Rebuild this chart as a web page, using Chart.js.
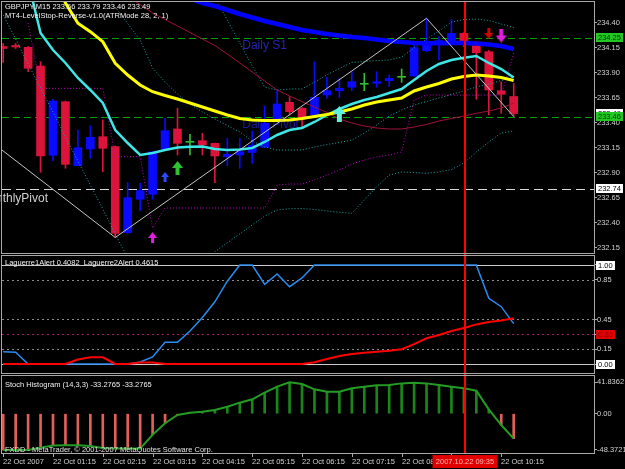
<!DOCTYPE html>
<html>
<head>
<meta charset="utf-8">
<title>GBPJPY,M15</title>
<script src="https://cdn.jsdelivr.net/npm/chart.js@4.4.1/dist/chart.umd.min.js"></script>
<style>
  html, body { margin: 0; padding: 0; background: #000; }
  #wrap { position: relative; width: 625px; height: 469px; background: #000; overflow: hidden; }
  #wrap canvas { position: absolute; left: 0; }
</style>
</head>
<body>
<div id="wrap">
  <canvas id="priceChart" width="625" height="255" style="top:0px"></canvas>
  <canvas id="laguerreChart" width="625" height="120" style="top:254px"></canvas>
  <canvas id="stochChart" width="625" height="95" style="top:374px"></canvas>
</div>
<script>
// ---------- data ----------
const xTickBars = [0, 4, 8, 12, 16, 20, 24, 28, 32, 36, 40];
const xTickLabels = ['22 Oct 2007', '22 Oct 01:15', '22 Oct 02:15', '22 Oct 03:15', '22 Oct 04:15',
    '22 Oct 05:15', '22 Oct 06:15', '22 Oct 07:15', '22 Oct 08:15', '22 Oct 09:15', '22 Oct 10:15'];
const cursorBar = 37.05;
const cursorLabel = '2007.10.22 09:35';

const opens = [234.16, 234.17, 234.152, 233.965, 233.072, 233.608, 232.968, 233.135, 233.258, 233.158,
    232.298, 232.632, 232.682, 233.135, 233.335, 233.202, 233.218, 233.192, 233.058, 233.075,
    233.10, 233.152, 233.435, 233.602, 233.542, 233.475, 233.675, 233.718, 233.752, 233.782,
    233.792, 233.818, 233.852, 233.865, 234.118, 234.20, 234.218, 234.292, 234.168, 234.108,
    233.718, 233.66];
const highs = [234.19, 234.19, 234.16, 234.008, 233.632, 233.615, 233.325, 233.368, 233.425, 233.165,
    232.798, 232.792, 233.11, 233.442, 233.542, 233.282, 233.292, 233.195, 233.242, 233.24,
    233.315, 233.565, 233.718, 233.658, 233.55, 234.008, 233.852, 233.842, 233.908, 233.892,
    233.908, 233.875, 233.935, 234.19, 234.442, 234.258, 234.432, 234.30, 234.208, 234.12,
    233.808, 233.79];
const lows = [234.00, 234.14, 233.908, 232.902, 233.018, 232.942, 232.965, 233.042, 232.908, 232.25,
    232.29, 232.518, 232.632, 233.13, 233.075, 233.075, 233.075, 232.798, 232.968, 232.942,
    232.992, 233.15, 233.43, 233.475, 233.358, 233.47, 233.642, 233.648, 233.718, 233.718,
    233.752, 233.758, 233.802, 233.86, 234.108, 234.025, 234.20, 234.158, 233.632, 233.475,
    233.492, 233.46];
const closes = [234.14, 234.155, 233.942, 233.065, 233.615, 232.982, 233.148, 233.252, 233.142, 232.292,
    232.648, 232.718, 233.105, 233.318, 233.192, 233.202, 233.175, 233.065, 233.082, 233.108,
    233.17, 233.392, 233.585, 233.508, 233.452, 233.652, 233.718, 233.742, 233.808, 233.782,
    233.808, 233.842, 233.852, 234.148, 234.192, 234.22, 234.292, 234.208, 234.098, 233.725,
    233.682, 233.49];

// moving averages
const maSlow = [null, null, null, null, null, null, null, null, null, null, null, null,
    234.76, 234.72, 234.68, 234.64, 234.595, 234.565, 234.525, 234.485, 234.45, 234.415,
    234.385, 234.355, 234.325, 234.305, 234.285, 234.27, 234.255, 234.245, 234.23, 234.215,
    234.205, 234.195, 234.192, 234.192, 234.195, 234.195, 234.19, 234.18, 234.165, 234.135];
const maMid = [null, null, null, null, 234.875, 234.595, 234.392, 234.308, 234.208, 233.992,
    233.875, 233.775, 233.708, 233.67, 233.635, 233.595, 233.555, 233.515, 233.475, 233.44,
    233.425, 233.42, 233.42, 233.425, 233.44, 233.46, 233.48, 233.505, 233.535, 233.575,
    233.605, 233.625, 233.645, 233.715, 233.755, 233.79, 233.835, 233.86, 233.875, 233.865,
    233.85, 233.82];
const maFast = [null, 235.3, 234.81, 234.295, 234.125, 233.995, 233.845, 233.725, 233.595, 233.325,
    233.195, 233.075, 233.095, 233.125, 233.15, 233.158, 233.16, 233.135, 233.125, 233.13,
    233.145, 233.205, 233.275, 233.325, 233.345, 233.405, 233.475, 233.535, 233.585, 233.625,
    233.655, 233.695, 233.735, 233.825, 233.915, 233.985, 234.025, 234.048, 234.065, 233.995,
    233.935, 233.85];
const trendLine = [null, null, null, null, null, null, null, null, null, null,
    234.665, 234.579, 234.495, 234.43, 234.365, 234.30, 234.235, 234.17, 234.085, 233.995,
    233.905, 233.815, 233.725, 233.665, 233.608, 233.555, 233.50, 233.435, 233.395, 233.365,
    233.345, 233.335, 233.335, 233.355, 233.38, 233.415, 233.44, 233.465, 233.492, 233.515,
    233.545, 233.595];

// envelope bands
const bandUpper = [null, null, null, null, null, null, null, null, null, null, null, null, null, null, null, null,
    234.80, 234.655, 234.425, 234.195, 233.965, 233.755, 233.725, 233.735, 233.735, 233.805,
    233.875, 233.94, 234.0, 234.01, 234.02, 234.025, 234.055, 234.145, 234.235, 234.315,
    234.405, 234.43, 234.435, 234.42, 234.385, 234.35];
const bandMiddle = [null, null, null, null, null, null, null, null,
    234.725, 234.555, 234.389, 234.225, 233.945, 233.805, 233.685, 233.585, 233.505, 233.435,
    233.37, 233.305, 233.215, 233.155, 233.125, 233.125, 233.125, 233.155, 233.18, 233.20,
    233.225, 233.295, 233.375, 233.465, 233.525, 233.575, 233.61, 233.645, 233.68, 233.715,
    233.755, 233.785, 233.82, 233.855];
const bandLower = [234.475, 234.235, 233.985, 233.745, 233.505, 233.255, 233.015, 232.775, 232.535, 232.285,
    232.045, 231.825, 231.72, 231.68, 231.70, 231.78, 231.92, 232.108, 232.197, 232.286,
    232.375, 232.465, 232.525, 232.538, 232.54, 232.53, 232.515, 232.502, 232.492, 232.625,
    232.758, 232.875, 232.905, 232.90, 232.892, 232.905, 232.93, 232.995, 233.105, 233.205,
    233.295, 233.315];

// LevelStop-Reverse trailing stop
const levelStop = [null, null, 234.395, 233.742, 233.742, 233.742, 233.742, 233.742, 233.742, 233.058,
    233.058, 233.058, 232.345, 232.545, 232.545, 232.545, 232.545, 232.545, 232.545, 232.545,
    232.545, 232.545, 232.775, 232.785, 232.785, 232.825, 232.875, 232.925, 232.985, 233.025,
    233.055, 233.075, 233.105, 233.625, 233.675, 233.675, 233.675, 233.675, 233.675, 233.675,
    233.675, 234.095];

const zigzagBars = [-0.1, 9, 34, 41];
const zigzagValues = [233.125, 232.25, 234.442, 233.46];

const arrowBars = [12, 13, 14, 27, 39, 40];
const arrowValues = [232.25, 232.855, 232.945, 233.485, 234.29, 234.27];
const arrowKinds = ['magentaUp', 'blueUp', 'greenUp', 'aquaUp', 'redDown', 'magentaDown'];

const pivotLevels = [234.242, 233.452, 232.735];
const pivotNames = ['Daily S1', 'Daily Pivot', 'MonthlyPivot'];

const priceTicks = [234.40, 234.15, 233.90, 233.65, 233.40, 233.15, 232.90, 232.65, 232.40, 232.15];
const priceMarkers = [234.25, 233.49, 233.46, 232.74];

// Laguerre sub window
const laguerre1 = [0.124, 0.118, 0, 0, 0, 0, 0, 0, 0, 0,
    0, 0.02, 0.072, 0.219, 0.219, 0.333, 0.469, 0.628, 0.836, 1,
    1, 0.805, 0.909, 0.781, 0.869, 1, 1, 1, 1, 1,
    1, 1, 1, 1, 1, 1, 1, 1, 1, 0.664,
    0.579, 0.4082];
const laguerre2 = [0, 0, 0, 0, 0, 0, 0.045, 0.068, 0.068, 0,
    0, 0.015, 0.015, 0, 0, 0, 0, 0, 0, 0,
    0, 0, 0, 0, 0, 0.017, 0.05, 0.08, 0.10, 0.114,
    0.124, 0.134, 0.15, 0.20, 0.26, 0.293, 0.333, 0.364, 0.40, 0.424,
    0.44, 0.4615];
const laguerreTicks = [1.00, 0.85, 0.45, 0.30, 0.15, 0.00];
const laguerreMarkers = [1.00, 0.30, 0.00];

// Stoch histogram sub window
const stochHist = [-48.37, -48.37, -48.37, -45.2, -42.5, -42.0, -42.0, -43.0, -45.6, -46.5,
    -46.5, -46.5, -28, -12.7, -1.7, 1.3, 2.7, 4.9, 9.3, 14.7,
    19.2, 28.0, 36.0, 41.84, 39.6, 32.5, 29.3, 29.3, 33.8, 36.0,
    37.8, 38.2, 40.4, 41.2, 40.4, 38.2, 36.0, 33.8, 30.6, 5.7,
    -15.1, -33.28];
const stochTicks = [41.8362, 0, -48.3721];

// ---------- look ----------
const FONT = '"Liberation Sans", Arial, sans-serif';
const SMALL = '7.5px ' + FONT;
const AXIS_TEXT = '#d0d0d0';
const FRAME = '#a8a8a8';
const BULL = '#0a0aff';
const BEAR = '#dc143c';
const DOJI = '#2fbf2f';
const X_MIN = -0.096;
const X_MAX = 47.45;

const ARROWS = {
    magentaUp:   { color: '#e020e0', w: 9,  h: 11, down: false },
    blueUp:      { color: '#2a4cff', w: 8,  h: 10, down: false },
    greenUp:     { color: '#2fc42f', w: 11, h: 14, down: false },
    aquaUp:      { color: '#60f0dc', w: 13, h: 16, down: false },
    redDown:     { color: '#d40000', w: 9,  h: 11, down: true },
    magentaDown: { color: '#e020e0', w: 11, h: 14, down: true }
};

/**
 * Small arrow glyph used as a point style
 */
function makeArrow(style) {
    const c = document.createElement('canvas');
    const w = style.w, h = style.h;
    c.width = w;
    c.height = h;
    const g = c.getContext('2d');
    if (style.down) {
        g.translate(0, h);
        g.scale(1, -1);
    }
    const head = Math.round(h * 0.5);
    const shaft = Math.max(2, Math.round(w * 0.36));
    const s0 = (w - shaft) / 2, s1 = (w + shaft) / 2;
    g.fillStyle = style.color;
    g.beginPath();
    g.moveTo(w / 2, 0);
    g.lineTo(w, head);
    g.lineTo(s1, head);
    g.lineTo(s1, h);
    g.lineTo(s0, h);
    g.lineTo(s0, head);
    g.lineTo(0, head);
    g.closePath();
    g.fill();
    return c;
}

const arrowImages = {};
Object.keys(ARROWS).forEach(k => { arrowImages[k] = makeArrow(ARROWS[k]); });

function series(values) {
    return values.map((v, i) => ({ x: i, y: v }));
}

function candleColor(i) {
    if (closes[i] > opens[i]) return BULL;
    if (closes[i] < opens[i]) return BEAR;
    return DOJI;
}

function lineSet(values, color, width, order, dash) {
    return {
        type: 'line',
        data: series(values),
        borderColor: color,
        borderWidth: width,
        borderDash: dash || [],
        pointRadius: 0,
        tension: 0,
        spanGaps: false,
        clip: 0,
        order: order
    };
}

function baseOptions(yMin, yMax, yTicks, tickText, padding) {
    return {
        responsive: false,
        animation: false,
        devicePixelRatio: 1,
        events: [],
        layout: { padding: padding, autoPadding: false },
        plugins: { legend: { display: false }, tooltip: { enabled: false } },
        scales: {
            x: { type: 'linear', min: X_MIN, max: X_MAX, display: false, offset: false, bounds: 'data' },
            y: {
                type: 'linear',
                position: 'right',
                min: yMin,
                max: yMax,
                bounds: 'data',
                afterBuildTicks: s => { s.ticks = yTicks.map(v => ({ value: v })); },
                afterFit: s => { s.width = 31; s.paddingTop = 0; s.paddingBottom = 0; },
                grid: { drawOnChartArea: false, drawTicks: true, tickLength: 3, color: FRAME },
                border: { display: false },
                ticks: { padding: 0, color: AXIS_TEXT, font: { family: FONT, size: 7.5 }, autoSkip: false, callback: tickText }
            }
        }
    };
}

// ---------- drawing helpers ----------
function drawFrame(chart) {
    const { ctx, chartArea: a } = chart;
    ctx.save();
    ctx.strokeStyle = FRAME;
    ctx.lineWidth = 1;
    ctx.setLineDash([]);
    ctx.strokeRect(a.left - 0.5, a.top - 0.5, a.width + 1, a.height + 1);
    ctx.restore();
}

function drawCursor(chart, extendTop, extendBottom) {
    const { ctx, chartArea: a, scales: { x } } = chart;
    const px = Math.round(x.getPixelForValue(cursorBar));
    ctx.save();
    ctx.fillStyle = '#ff0000';
    ctx.fillRect(px - 1, a.top - extendTop, 2, a.height + extendTop + extendBottom);
    ctx.restore();
}

function drawLevel(chart, value, color, dash) {
    const { ctx, chartArea: a, scales: { y } } = chart;
    const py = Math.round(y.getPixelForValue(value)) + 0.5;
    ctx.save();
    ctx.strokeStyle = color;
    ctx.lineWidth = 1;
    ctx.setLineDash(dash);
    ctx.beginPath();
    ctx.moveTo(a.left, py);
    ctx.lineTo(a.right, py);
    ctx.stroke();
    ctx.restore();
}

function drawMarker(chart, value, text, bg, fg) {
    const { ctx, chartArea: a, scales: { y } } = chart;
    const py = Math.round(y.getPixelForValue(value));
    ctx.save();
    ctx.font = SMALL;
    const w = Math.ceil(ctx.measureText(text).width) + 4;
    ctx.fillStyle = bg;
    ctx.fillRect(a.right + 2, py - 4, w, 9);
    ctx.fillStyle = fg;
    ctx.textAlign = 'left';
    ctx.textBaseline = 'middle';
    ctx.fillText(text, a.right + 4, py + 0.5);
    ctx.restore();
}

function drawText(ctx, text, x, y, color, font, align) {
    ctx.save();
    ctx.font = font;
    ctx.fillStyle = color;
    ctx.textAlign = align || 'left';
    ctx.textBaseline = 'alphabetic';
    ctx.fillText(text, x, y);
    ctx.restore();
}

// ---------- price window ----------
const priceDeco = {
    id: 'priceDeco',
    beforeDatasetsDraw(chart) {
        const { ctx, chartArea: a, scales: { x, y } } = chart;
        drawLevel(chart, pivotLevels[0], '#00a000', [7, 4]);
        drawLevel(chart, pivotLevels[1], '#00a000', [7, 4]);
        drawLevel(chart, pivotLevels[2], '#d8d8d8', [9, 5]);
        ctx.save();
        ctx.beginPath();
        ctx.rect(0, a.top, a.right, a.height);
        ctx.clip();
        const big = '12px ' + FONT;
        drawText(ctx, pivotNames[1], x.getPixelForValue(19.2), y.getPixelForValue(pivotLevels[1]) + 11, '#1c1c9c', big);
        drawText(ctx, pivotNames[0], x.getPixelForValue(19.2), y.getPixelForValue(pivotLevels[0]) + 11, '#2424b0', big);
        drawText(ctx, pivotNames[2], x.getPixelForValue(3.6), y.getPixelForValue(pivotLevels[2]) + 13, '#cfcfcf', big, 'right');
        ctx.restore();
    },
    afterDatasetsDraw(chart) {
        drawCursor(chart, 1, 1);
    },
    afterDraw(chart) {
        const { ctx } = chart;
        drawFrame(chart);
        drawMarker(chart, priceMarkers[0], '234.25', '#22c822', '#003000');
        drawMarker(chart, priceMarkers[1], '233.49', '#ffffff', '#000000');
        drawMarker(chart, priceMarkers[2], '233.46', '#22c822', '#003000');
        drawMarker(chart, priceMarkers[3], '232.74', '#ffffff', '#000000');
        drawText(ctx, 'GBPJPY,M15 233.66 233.79 233.46 233.49', 5, 8.5, '#f0f0f0', SMALL);
        drawText(ctx, 'MT4-LevelStop-Reverse-v1.0(ATRMode 28, 2, 1)', 5, 17.5, '#f0f0f0', SMALL);
    }
};

new Chart(document.getElementById('priceChart'), {
    type: 'bar',
    data: {
        datasets: [
            {
                type: 'line',
                data: arrowBars.map((b, k) => ({ x: b, y: arrowValues[k] })),
                showLine: false,
                pointStyle: ctx => arrowImages[arrowKinds[ctx.dataIndex]],
                pointRadius: 6,
                clip: 0,
                order: 0
            },
            {
                type: 'line',
                data: zigzagBars.map((b, k) => ({ x: b, y: zigzagValues[k] })),
                borderColor: '#c4c4c4',
                borderWidth: 1,
                pointRadius: 0,
                tension: 0,
                clip: 0,
                order: 1
            },
            lineSet(maMid, '#ffff00', 3, 2),
            lineSet(maFast, '#3ee6e6', 2.5, 2),
            lineSet(maSlow, '#0000ff', 4.5, 2),
            lineSet(trendLine, '#a0103c', 1, 3),
            lineSet(bandUpper, '#1aa8a8', 1, 3, [1, 2]),
            lineSet(bandMiddle, '#1aa8a8', 1, 3, [1, 2]),
            lineSet(bandLower, '#1aa8a8', 1, 3, [1, 2]),
            lineSet(levelStop, '#c000c0', 1, 3, [1, 2]),
            {
                type: 'bar',
                data: opens.map((o, i) => ({ x: i, y: [o, closes[i]] })),
                backgroundColor: ctx => candleColor(ctx.dataIndex),
                barThickness: 8,
                minBarLength: 1,
                grouped: false,
                order: 8
            },
            {
                type: 'bar',
                data: lows.map((l, i) => ({ x: i, y: [l, highs[i]] })),
                backgroundColor: ctx => candleColor(ctx.dataIndex),
                barThickness: 1,
                grouped: false,
                order: 9
            }
        ]
    },
    options: baseOptions(232.095, 234.605, priceTicks, v => v.toFixed(2), { left: 2, top: 2, right: 0, bottom: 2 }),
    plugins: [priceDeco]
});

// ---------- Laguerre window ----------
const laguerreDeco = {
    id: 'laguerreDeco',
    beforeDatasetsDraw(chart) {
        drawLevel(chart, 0.85, '#8a8a8a', [2, 3]);
        drawLevel(chart, 0.45, '#8a8a8a', [2, 3]);
        drawLevel(chart, 0.15, '#8a8a8a', [2, 3]);
        drawLevel(chart, 0.30, '#a0206a', [2, 3]);
        drawLevel(chart, 1.00, '#c8c8c8', []);
        drawLevel(chart, 0.00, '#c8c8c8', []);
    },
    afterDatasetsDraw(chart) {
        drawCursor(chart, 3, 2);
    },
    afterDraw(chart) {
        const { ctx, chartArea: a } = chart;
        drawFrame(chart);
        drawMarker(chart, laguerreMarkers[0], '1.00', '#ffffff', '#000000');
        drawMarker(chart, laguerreMarkers[1], '0.30', '#e00000', '#700000');
        drawMarker(chart, laguerreMarkers[2], '0.00', '#ffffff', '#000000');
        drawText(ctx, 'Laguerre1Alert 0.4082  Laguerre2Alert 0.4615', 5, a.top + 8.5, '#f0f0f0', SMALL);
    }
};

new Chart(document.getElementById('laguerreChart'), {
    type: 'line',
    data: {
        datasets: [
            lineSet(laguerre2, '#ff0000', 2, 0),
            lineSet(laguerre1, '#2a8cf0', 1.5, 1)
        ]
    },
    options: baseOptions(-0.0909, 1.0909, laguerreTicks,
        v => (laguerreMarkers.includes(v) ? '' : v.toFixed(2)), { left: 2, top: 2, right: 0, bottom: 1 }),
    plugins: [laguerreDeco]
});

// ---------- Stoch histogram window ----------
const stochDeco = {
    id: 'stochDeco',
    afterDatasetsDraw(chart) {
        drawCursor(chart, 3, 0);
    },
    afterDraw(chart) {
        const { ctx, chartArea: a, scales: { x } } = chart;
        drawFrame(chart);
        drawText(ctx, 'Stoch Histogram (14,3,3) -33.2765 -33.2765', 5, a.top + 11, '#f0f0f0', SMALL);
        drawText(ctx, 'FXDD - MetaTrader, \u00a9 2001-2007 MetaQuotes Software Corp.', 5, a.bottom - 1.5, '#e0e0e0', SMALL);

        // time axis
        ctx.save();
        ctx.font = SMALL;
        ctx.textAlign = 'left';
        ctx.textBaseline = 'middle';
        xTickBars.forEach((b, k) => {
            const px = Math.round(x.getPixelForValue(b)) + 0.5;
            ctx.strokeStyle = FRAME;
            ctx.beginPath();
            ctx.moveTo(px, a.bottom + 1);
            ctx.lineTo(px, a.bottom + 4);
            ctx.stroke();
            ctx.fillStyle = AXIS_TEXT;
            ctx.fillText(xTickLabels[k], px - 0.5, a.bottom + 9);
        });
        // cursor time box
        const cx = Math.round(x.getPixelForValue(cursorBar));
        const w = Math.ceil(ctx.measureText(cursorLabel).width) + 6;
        ctx.fillStyle = '#e00000';
        ctx.fillRect(cx - w / 2, a.bottom + 2, w, 13);
        ctx.fillStyle = '#ffb4b4';
        ctx.textAlign = 'center';
        ctx.fillText(cursorLabel, cx, a.bottom + 9);
        ctx.restore();
    }
};

new Chart(document.getElementById('stochChart'), {
    type: 'bar',
    data: {
        datasets: [
            lineSet(stochHist, '#249c24', 2, 0),
            {
                type: 'bar',
                data: series(stochHist),
                backgroundColor: ctx => (stochHist[ctx.dataIndex] >= 0 ? '#1a861a' : '#e2605a'),
                barThickness: 2,
                grouped: false,
                order: 1
            }
        ]
    },
    options: baseOptions(-52.37, 50.23, stochTicks,
        v => (v === 0 ? '0.00' : String(v)), { left: 2, top: 2, right: 0, bottom: 16 }),
    plugins: [stochDeco]
});
</script>
</body>
</html>
